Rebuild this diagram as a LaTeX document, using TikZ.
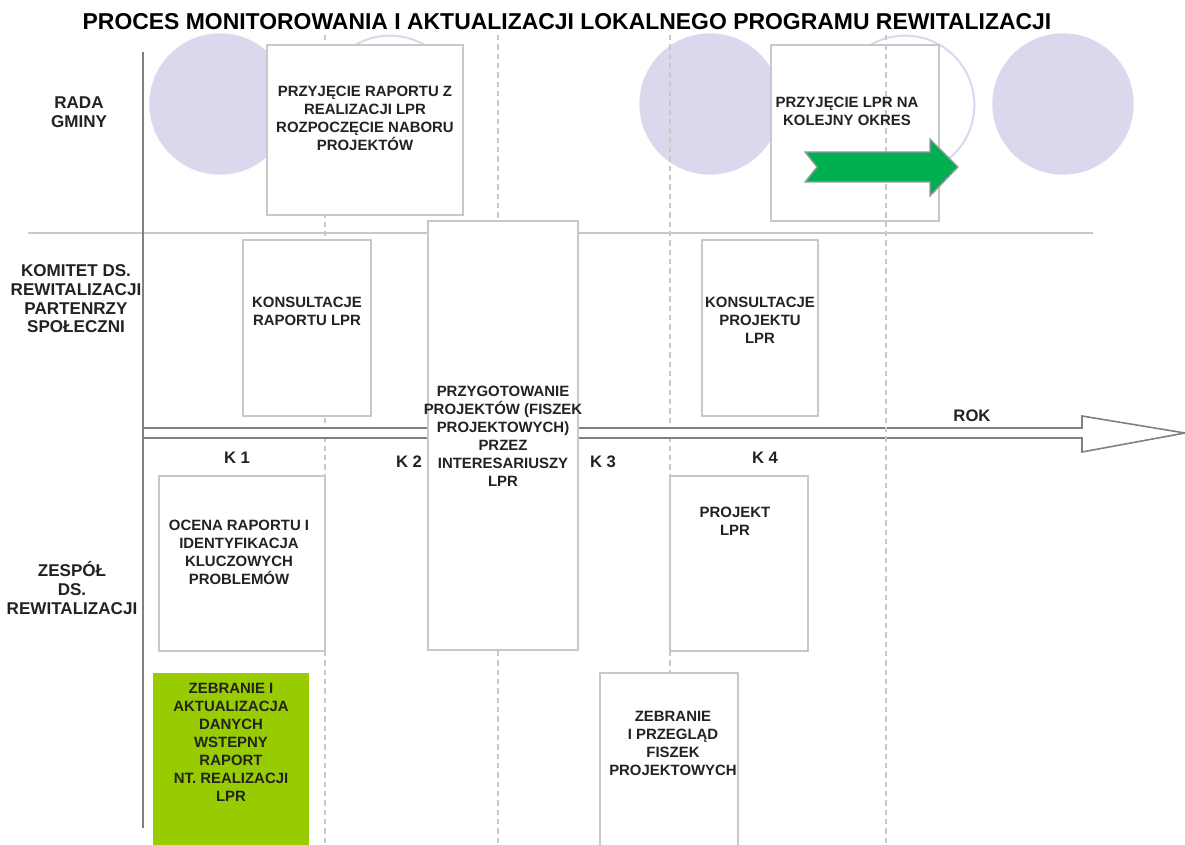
\documentclass[tikz,border=0pt]{standalone}
\usepackage{fontspec}
\setmainfont{Liberation Sans}
\usetikzlibrary{positioning, fit, calc}
\definecolor{lila}{RGB}{217,216,236}
\definecolor{boxgray}{RGB}{200,200,200}
\definecolor{guidegray}{RGB}{200,200,200}
\definecolor{axisgray}{RGB}{128,128,128}
\definecolor{limegreen}{RGB}{153,204,0}
\definecolor{arrowgreen}{RGB}{0,176,80}
\definecolor{txtgray}{RGB}{34,34,34}
\tikzset{
  every node/.style={align=center, text=txtgray}
}
\begin{document}
\begin{tikzpicture}[x=0.75pt, y=-0.75pt]
\tikzstyle{disc}=[circle, fill=lila, minimum size=106pt, inner sep=0pt]
\tikzstyle{ring}=[circle, draw=lila, line width=1.5pt, minimum size=104pt, inner sep=0pt]
\tikzstyle{box}=[rectangle, draw=boxgray, fill=white, line width=1pt, inner sep=0pt]
\tikzstyle{greenbox}=[rectangle, fill=limegreen, inner sep=0pt]
\tikzstyle{txt}=[font=\bfseries\fontsize{11.2}{13.5}\selectfont, inner sep=0pt]
\tikzstyle{lane}=[font=\bfseries\fontsize{12.8}{14}\selectfont, inner sep=0pt]
\tikzstyle{kwart}=[font=\bfseries\fontsize{12.5}{14}\selectfont, inner sep=0pt]
\tikzstyle{guide}=[draw=guidegray, line width=0.8pt, dash pattern=on 4pt off 3pt]
\useasboundingbox (0,0) rectangle (1185,845);

% title
\node[font=\bfseries\fontsize{17.2}{19}\selectfont, text=black] (title) at (567,22)
  {PROCES MONITOROWANIA I AKTUALIZACJI LOKALNEGO PROGRAMU REWITALIZACJI};

% circles
\node[disc] (c1) at (220,104) {};
\node[ring] (c2) at (390,105) {};
\node[disc] (c3) at (710,104) {};
\node[ring] (c4) at (905,105) {};
\node[disc] (c5) at (1063,104) {};

% quarter guides
\coordinate (g1t) at (325,35);  \coordinate (g1b) at (325,846);
\coordinate (g2t) at (498,35);  \coordinate (g2b) at (498,846);
\coordinate (g3t) at (670,35);  \coordinate (g3b) at (670,846);
\coordinate (g4t) at (886,35);  \coordinate (g4b) at (886,846);
\draw[guide] (g1t) -- (g1b);
\draw[guide] (g2t) -- (g2b);
\draw[guide] (g3t) -- (g3b);

% lanes
\coordinate (axtop) at (143,52);
\coordinate (axbot) at (143,828);
\coordinate (sepl) at (28,233);
\coordinate (sepr) at (1093,233);
\draw[boxgray, line width=1pt] (sepl) -- (sepr);

% time arrow
\draw[axisgray, line width=1.2pt, fill=white] (143,428) -- (1082,428) -- (1082,416)
  -- (1185,433) -- (1082,452) -- (1082,438) -- (143,438);
\node[kwart] (rok) at (972,416) {ROK};
\node[kwart] (k1) at (237,458) {K 1};
\node[kwart] (k2) at (409,462) {K 2};
\node[kwart] (k3) at (603,462) {K 3};
\node[kwart] (k4) at (765,458) {K 4};

% rada gminy
\node[box, fit={(267,45) (463,215)}] (rada1) {};
\node[txt] (rada1t) at (365,118)
  {PRZYJĘCIE RAPORTU Z\\REALIZACJI LPR\\ROZPOCZĘCIE NABORU\\PROJEKTÓW};
\node[box, fit={(771,45) (939,221)}] (rada2) {};
\draw[guide] (g4t) -- (g4b);
\node[txt] (rada2t) at (847,111) {PRZYJĘCIE LPR NA\\KOLEJNY OKRES};
\fill[arrowgreen, draw=axisgray!70!lila, line width=1pt] (805,152) -- (930,152)
  -- (930,139) -- (958,167) -- (930,196) -- (930,182) -- (805,182) -- (817,167)
  -- cycle;

% komitet
\node[box, fit={(243,240) (371,416)}] (kons1) {};
\node[txt] (kons1t) at (307,311) {KONSULTACJE\\RAPORTU LPR};
\node[box, fit={(428,221) (578,650)}] (fiszki) {};
\node[txt] (fiszkit) at (503,436)
  {PRZYGOTOWANIE\\PROJEKTÓW (FISZEK\\PROJEKTOWYCH)\\PRZEZ\\INTERESARIUSZY\\LPR};
\node[box, fit={(702,240) (818,416)}] (kons2) {};
\node[txt] (kons2t) at (760,320) {KONSULTACJE\\PROJEKTU\\LPR};

% zespol
\node[box, fit={(159,476) (325,651)}] (ocena) {};
\node[txt] (ocenat) at (239,552)
  {OCENA RAPORTU I\\IDENTYFIKACJA\\KLUCZOWYCH\\PROBLEMÓW};
\node[box, fit={(670,476) (808,651)}] (projekt) {};
\node[txt] (projektt) at (735,521) {PROJEKT\\LPR};
\node[greenbox, fit={(153,673) (309,850)}] (dane) {};
\node[txt] (danet) at (231,742)
  {ZEBRANIE I\\AKTUALIZACJA\\DANYCH\\WSTEPNY\\RAPORT\\NT. REALIZACJI\\LPR};
\node[box, fit={(600,673) (738,850)}] (przeglad) {};
\node[txt] (przegladt) at (673,743)
  {ZEBRANIE\\I PRZEGLĄD\\FISZEK\\PROJEKTOWYCH};

% lane labels and axis
\draw[axisgray, line width=1.5pt] (axtop) -- (axbot);
\node[lane] (rada) at (79,112) {RADA\\GMINY};
\node[lane] (komitet) at (76,299)
  {KOMITET DS.\\REWITALIZACJI\\PARTENRZY\\SPOŁECZNI};
\node[lane] (zespol) at (72,588) {ZESPÓŁ\\DS.\\REWITALIZACJI};

\end{tikzpicture}
\end{document}
